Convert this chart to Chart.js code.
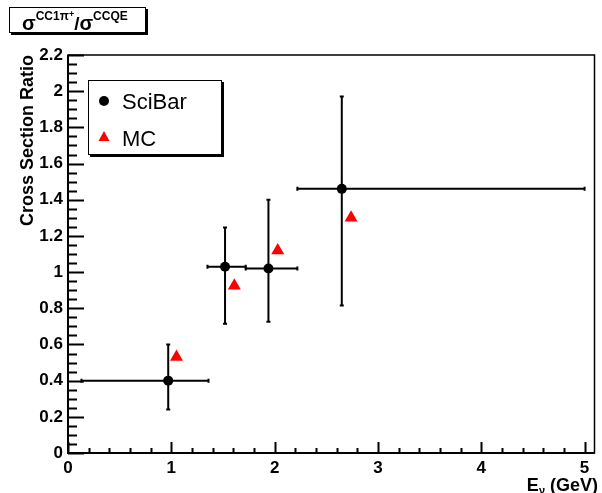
<!DOCTYPE html>
<html>
<head>
<meta charset="utf-8">
<script src="https://cdn.jsdelivr.net/npm/chart.js@4/dist/chart.umd.min.js"></script>
<style>
  html, body { margin: 0; padding: 0; background: #fff; }
  canvas { display: block; }
</style>
</head>
<body>
<canvas id="chart" width="602" height="493"></canvas>
<script>
// SciBar measurements (E_nu in GeV, ratio) with error ranges
const sciE = [0.97, 1.52, 1.94, 2.65];
const sciR = [0.40, 1.03, 1.02, 1.46];
const sciELow = [0.13, 1.35, 1.72, 2.22];
const sciEHigh = [1.36, 1.72, 2.22, 5.0];
const sciRLow = [0.24, 0.715, 0.726, 0.815];
const sciRHigh = [0.60, 1.246, 1.40, 1.97];

// MC prediction
const mcE = [1.05, 1.61, 2.03, 2.74];
const mcR = [0.53, 0.925, 1.12, 1.30];

// axis ticks
const xTicks = [0, 1, 2, 3, 4, 5];
const yTicks = [0, 0.2, 0.4, 0.6, 0.8, 1, 1.2, 1.4, 1.6, 1.8, 2, 2.2];

const FONT = "'Liberation Sans', Arial, sans-serif";

// draw a run of [text, font, dy] pieces left to right
function drawRun(ctx, x, y, parts) {
  parts.forEach(([txt, font, dy]) => {
    ctx.font = font;
    ctx.fillText(txt, x, y + dy);
    x += ctx.measureText(txt).width;
  });
  return x;
}

const rootPlugin = {
  id: "rootStyle",
  beforeDatasetsDraw(chart) {
    const { ctx, scales: { x, y } } = chart;
    ctx.save();
    ctx.strokeStyle = "#000";
    ctx.lineWidth = 2;
    sciE.forEach((e, i) => {
      const px = x.getPixelForValue(e);
      const py = y.getPixelForValue(sciR[i]);
      const x0 = x.getPixelForValue(sciELow[i]);
      const x1 = x.getPixelForValue(sciEHigh[i]);
      const y0 = y.getPixelForValue(sciRLow[i]);
      const y1 = y.getPixelForValue(sciRHigh[i]);
      ctx.beginPath();
      ctx.moveTo(x0, py); ctx.lineTo(x1, py);
      ctx.moveTo(px, y0); ctx.lineTo(px, y1);
      ctx.moveTo(x0, py - 2); ctx.lineTo(x0, py + 2);
      ctx.moveTo(x1, py - 2); ctx.lineTo(x1, py + 2);
      ctx.moveTo(px - 2, y0); ctx.lineTo(px + 2, y0);
      ctx.moveTo(px - 2, y1); ctx.lineTo(px + 2, y1);
      ctx.stroke();
    });
    ctx.restore();
  },
  afterDraw(chart) {
    const { ctx, chartArea: a, scales: { x, y } } = chart;
    ctx.save();
    ctx.strokeStyle = "#000";

    // frame
    ctx.lineWidth = 1.5;
    ctx.strokeRect(a.left, a.top, a.right - a.left, a.bottom - a.top);
    ctx.lineWidth = 2;
    ctx.beginPath();
    ctx.moveTo(a.left, a.top); ctx.lineTo(a.left, a.bottom); ctx.lineTo(a.right, a.bottom);
    ctx.stroke();

    // y ticks (major every 0.2, minor every 0.05)
    ctx.beginPath();
    for (let i = 0; i <= 44; i++) {
      const py = Math.round(y.getPixelForValue(i * 0.05)) + 0.5;
      const len = i % 4 === 0 ? 16 : 9;
      ctx.moveTo(a.left, py); ctx.lineTo(a.left + len, py);
    }
    // x ticks (major every 1, minor every 0.2)
    for (let i = 0; i <= 25; i++) {
      const px = Math.round(x.getPixelForValue(i * 0.2)) + 0.5;
      const len = i % 5 === 0 ? 11 : 5;
      ctx.moveTo(px, a.bottom); ctx.lineTo(px, a.bottom - len);
    }
    ctx.stroke();

    // legend box
    ctx.fillStyle = "#000";
    ctx.fillRect(90, 82, 134, 75);
    ctx.fillStyle = "#fff";
    ctx.fillRect(88, 80, 134, 75);
    ctx.lineWidth = 1;
    ctx.strokeRect(88.5, 80.5, 133, 74);
    ctx.fillStyle = "#000";
    ctx.beginPath();
    ctx.arc(104, 101, 5, 0, Math.PI * 2);
    ctx.fill();
    ctx.fillStyle = "#ff0000";
    ctx.beginPath();
    ctx.moveTo(104, 131); ctx.lineTo(109.5, 141); ctx.lineTo(98.5, 141);
    ctx.closePath();
    ctx.fill();
    ctx.fillStyle = "#000";
    ctx.font = "22px " + FONT;
    ctx.textBaseline = "alphabetic";
    ctx.textAlign = "left";
    ctx.fillText("SciBar", 122, 109);
    ctx.fillText("MC", 122, 146);

    // title box
    ctx.fillStyle = "#000";
    ctx.fillRect(11, 9, 137, 26);
    ctx.fillStyle = "#fff";
    ctx.fillRect(9, 7, 137, 26);
    ctx.strokeRect(9.5, 7.5, 136, 25);
    ctx.fillStyle = "#000";
    drawRun(ctx, 22, 30, [
      ["\u03c3", "bold 20px " + FONT, 0],
      ["CC1\u03c0", "bold 12px " + FONT, -10],
      ["+", "bold 9px " + FONT, -13],
      ["/", "bold 19px " + FONT, 0],
      ["\u03c3", "bold 20px " + FONT, 0],
      ["CCQE", "bold 12px " + FONT, -10]
    ]);

    // y axis title
    ctx.save();
    ctx.translate(33, 55);
    ctx.rotate(-Math.PI / 2);
    ctx.font = "bold 18px " + FONT;
    ctx.textAlign = "right";
    ctx.fillText("Cross Section Ratio", 0, 0);
    ctx.restore();

    // x axis title: E_nu (GeV), right aligned
    ctx.font = "bold 18px " + FONT;
    ctx.textAlign = "right";
    ctx.fillText(" (GeV)", 598, 491);
    let xr = 598 - ctx.measureText(" (GeV)").width;
    ctx.font = "bold 11px " + FONT;
    ctx.fillText("\u03bd", xr, 494);
    xr -= ctx.measureText("\u03bd").width;
    ctx.font = "bold 18px " + FONT;
    ctx.fillText("E", xr, 491);

    ctx.restore();
  }
};

new Chart(document.getElementById("chart"), {
  type: "scatter",
  data: {
    datasets: [
      {
        label: "SciBar",
        data: sciE.map((e, i) => ({ x: e, y: sciR[i] })),
        pointStyle: "circle",
        pointRadius: 5,
        pointBorderWidth: 0,
        backgroundColor: "#000"
      },
      {
        label: "MC",
        data: mcE.map((e, i) => ({ x: e, y: mcR[i] })),
        pointStyle: "triangle",
        pointRadius: 7.5,
        pointBorderWidth: 0,
        backgroundColor: "#ff0000"
      }
    ]
  },
  options: {
    responsive: false,
    animation: false,
    layout: { padding: { top: 55, right: 4, left: 0, bottom: 0 } },
    plugins: {
      legend: { display: false },
      tooltip: { enabled: false }
    },
    scales: {
      x: {
        type: "linear",
        min: 0,
        max: 5.096,
        afterBuildTicks: s => { s.ticks = xTicks.map(v => ({ value: v })); },
        afterFit: s => { s.height = 40; },
        grid: { display: false, drawTicks: false },
        border: { display: false },
        ticks: {
          padding: 5,
          maxRotation: 0,
          color: "#000",
          font: { family: FONT, size: 17, weight: "bold" },
          callback: v => String(v)
        }
      },
      y: {
        type: "linear",
        min: 0,
        max: 2.2,
        afterBuildTicks: s => { s.ticks = yTicks.map(v => ({ value: v })); },
        afterFit: s => { s.width = 68; },
        grid: { display: false, drawTicks: false },
        border: { display: false },
        ticks: {
          padding: 5,
          color: "#000",
          font: { family: FONT, size: 17, weight: "bold" },
          callback: v => String(+Number(v).toFixed(1))
        }
      }
    }
  },
  plugins: [rootPlugin]
});
</script>
</body>
</html>
